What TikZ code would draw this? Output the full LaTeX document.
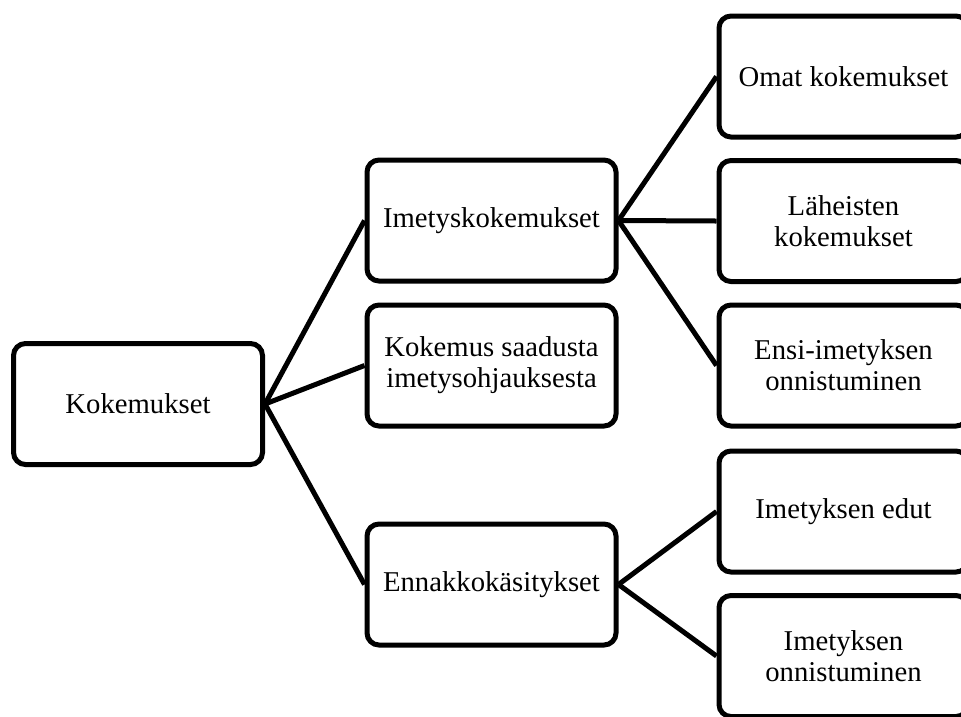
\documentclass[tikz,border=0pt]{standalone}
\usepackage{fontspec}
\setmainfont{Liberation Serif}
\begin{document}
\begin{tikzpicture}[x=1pt,y=-1pt,
  box/.style={draw=black, line width=5pt, rounded corners=12pt, fill=white,
    minimum width=249pt, minimum height=121pt, inner sep=0pt, align=center,
    font=\fontsize{28.7}{31}\selectfont},
  conn/.style={line width=5pt, draw=black}]
\clip (0,0) rectangle (961,716);
\fill[white] (0,0) rectangle (961,716);
\node[box] (root) at (138,404) {Kokemukset};
\node[box] (ime) at (491.5,220.5) {Imetyskokemukset};
\node[box] (kok) at (491.5,365.5) {Kokemus saadusta\\imetysohjauksesta};
\node[box] (enn) at (491.5,584.5) {Ennakkokäsitykset};
\node[box] (omat) at (843.5,76.5) {Omat kokemukset};
\node[box] (lah) at (843.5,221) {Läheisten\\kokemukset};
\node[box] (ensi) at (843.5,365.5) {Ensi-imetyksen\\onnistuminen};
\node[box] (edut) at (843.5,511.5) {Imetyksen edut};
\node[box] (onn) at (843.5,656) {Imetyksen\\onnistuminen};
\draw[conn] (root.east) -- (ime.west);
\draw[conn] (root.east) -- (kok.west);
\draw[conn] (root.east) -- (enn.west);
\draw[conn] (ime.east) -- (omat.west);
\draw[conn] (ime.east) -- (lah.west);
\draw[conn] (ime.east) -- (ensi.west);
\draw[conn] (enn.east) -- (edut.west);
\draw[conn] (enn.east) -- (onn.west);
\end{tikzpicture}
\end{document}
